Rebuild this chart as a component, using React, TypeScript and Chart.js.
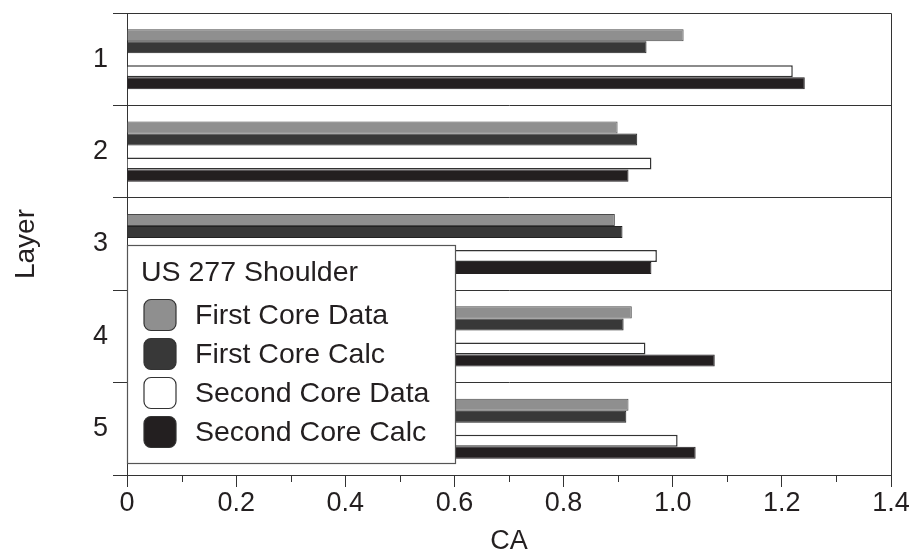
import React, { useEffect, useRef } from "react";
import { Chart, registerables } from "chart.js";

Chart.register(...registerables);

const layers = ["1", "2", "3", "4", "5"];
const firstCoreData = [1.02, 0.899, 0.894, 0.925, 0.919];
const firstCoreCalc = [0.952, 0.935, 0.908, 0.91, 0.915];
const secondCoreData = [1.22, 0.961, 0.971, 0.95, 1.009];
const secondCoreCalc = [1.242, 0.919, 0.961, 1.077, 1.042];
const legendTitle = "US 277 Shoulder";
const seriesNames = ["First Core Data", "First Core Calc", "Second Core Data", "Second Core Calc"];
const seriesFill = ["#8f8f8f", "#383838", "#ffffff", "#231f20"];
const seriesBorder = ["#4a4a4a", "#222222", "#333333", "#231f20"];
const xTickLabels = ["0", "0.2", "0.4", "0.6", "0.8", "1.0", "1.2", "1.4"];

const FONT = "'Liberation Sans', Arial, Helvetica, sans-serif";

const frameAndLegend = {
  id: "frameAndLegend",
  afterDatasetsDraw(chart: any) {
    const ctx = chart.ctx;
    const a = chart.chartArea;
    const xs = chart.scales.x;
    ctx.save();
    ctx.strokeStyle = "#333";
    ctx.lineWidth = 1;
    ctx.beginPath();
    ctx.moveTo(a.left, a.top + 0.5);
    ctx.lineTo(a.right + 0.5, a.top + 0.5);
    ctx.lineTo(a.right + 0.5, a.bottom);
    ctx.stroke();

    // minor ticks on x axis
    ctx.beginPath();
    for (let i = 1; i < 14; i += 2) {
      const px = Math.round(xs.getPixelForValue(i / 10)) + 0.5;
      ctx.moveTo(px, a.bottom);
      ctx.lineTo(px, a.bottom + 7);
    }
    ctx.stroke();

    // legend box
    const bx = a.left + 0.5, by = 245.5, bw = 328, bh = 218;
    ctx.fillStyle = "#fff";
    ctx.fillRect(bx, by, bw, bh);
    ctx.strokeStyle = "#555";
    ctx.lineWidth = 1.2;
    ctx.strokeRect(bx, by, bw, bh);

    ctx.fillStyle = "#231f20";
    ctx.font = "28.5px " + FONT;
    ctx.textBaseline = "middle";
    ctx.textAlign = "left";
    ctx.fillText(legendTitle, 141, 273);
    const ys = [315, 354, 393, 432];
    seriesNames.forEach((name, i) => {
      const sx = 144, sy = ys[i] - 15.5, sw = 32, sh = 31;
      ctx.beginPath();
      if ((ctx as any).roundRect) (ctx as any).roundRect(sx, sy, sw, sh, 7);
      else ctx.rect(sx, sy, sw, sh);
      ctx.fillStyle = seriesFill[i];
      ctx.fill();
      ctx.strokeStyle = "#333";
      ctx.lineWidth = 1.2;
      ctx.stroke();
      ctx.fillStyle = "#231f20";
      ctx.fillText(name, 195, ys[i] + 1);
    });
    ctx.restore();
  },
};

export default function App() {
  const ref = useRef<HTMLCanvasElement>(null);
  useEffect(() => {
    document.body.style.margin = "0";
    const datasets: any[] = [];
    const vals = [firstCoreData, firstCoreCalc, null, secondCoreData, secondCoreCalc];
    let si = 0;
    vals.forEach((v) => {
      if (v === null) {
        datasets.push({ label: "", data: layers.map(() => null), backgroundColor: "transparent" });
      } else {
        datasets.push({
          label: seriesNames[si],
          data: v,
          backgroundColor: seriesFill[si],
          borderColor: seriesBorder[si],
          borderWidth: si === 2 ? 1.5 : 1,
        });
        si++;
      }
    });
    const chart = new Chart(ref.current!, {
      type: "bar",
      data: { labels: layers, datasets },
      options: {
        indexAxis: "y",
        animation: false,
        responsive: false,
        maintainAspectRatio: false,
        layout: { padding: { top: 13, right: 22, left: 0, bottom: 0 } },
        datasets: { bar: { categoryPercentage: 0.65, barPercentage: 1 } },
        plugins: { legend: { display: false }, tooltip: { enabled: false } },
        scales: {
          x: {
            min: 0,
            max: 1.4,
            afterFit: (s: any) => {
              s.height = 77;
              s.paddingLeft = 0;
              s.paddingRight = 0;
            },
            afterBuildTicks: (s: any) => {
              s.ticks = xTickLabels.map((_, i) => ({ value: (i * 2) / 10 }));
            },
            ticks: {
              autoSkip: false,
              maxRotation: 0,
              padding: 0,
              color: "#231f20",
              font: { size: 27, family: FONT },
              callback: (_v: any, i: number) => xTickLabels[i],
            },
            grid: { drawOnChartArea: false, drawTicks: true, tickLength: 12, color: "#333", lineWidth: 1 },
            border: { display: true, color: "#333", width: 1 },
            title: {
              display: true,
              text: "CA",
              color: "#231f20",
              font: { size: 27, family: FONT },
              padding: { top: 0, bottom: -6 },
            },
          },
          y: {
            afterFit: (s: any) => {
              s.width = 127;
              s.paddingTop = 0;
              s.paddingBottom = 0;
            },
            offset: true,
            ticks: {
              padding: 5,
              color: "#231f20",
              font: { size: 27, family: FONT },
            },
            grid: { offset: true, drawTicks: true, tickLength: 14, color: "#333", lineWidth: 1 },
            border: { display: true, color: "#333", width: 1 },
            title: {
              display: true,
              text: "Layer",
              color: "#231f20",
              font: { size: 28, family: FONT },
              padding: { top: 9, bottom: 0 },
            },
          },
        },
      },
      plugins: [frameAndLegend],
    });
    return () => chart.destroy();
  }, []);
  return <canvas ref={ref} width={913} height={552} style={{ display: "block" }} />;
}
